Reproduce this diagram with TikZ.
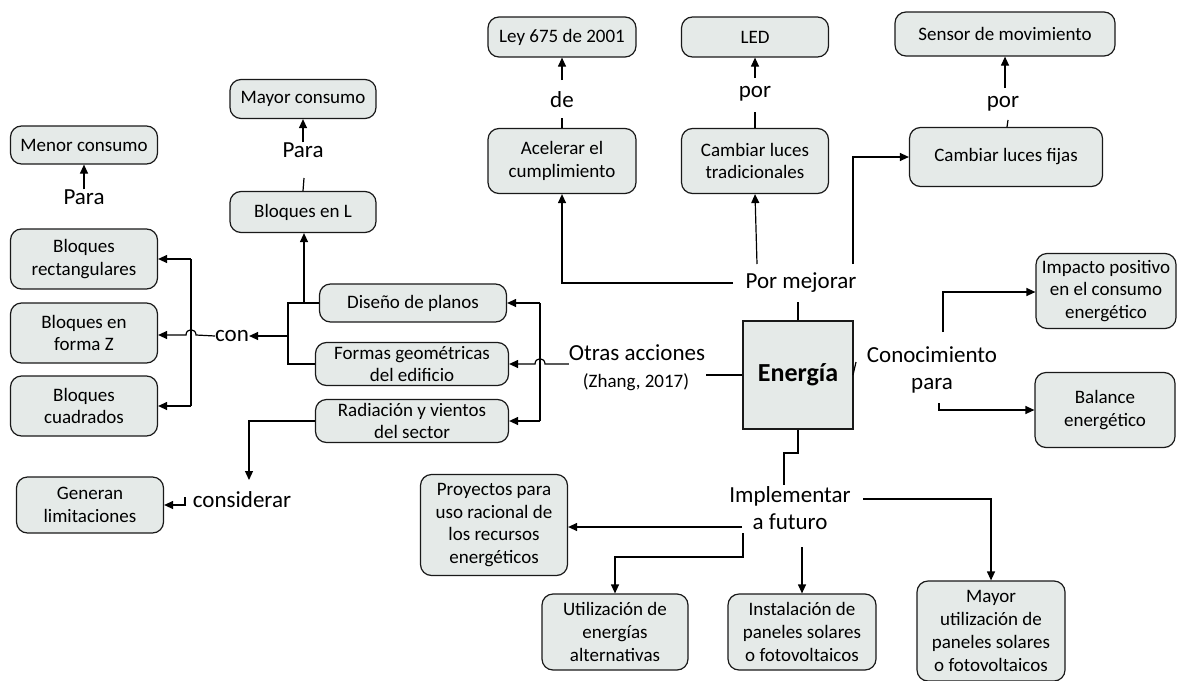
\documentclass[tikz,border=0pt]{standalone}
\usepackage{fontspec}
\setmainfont{Carlito}
\usetikzlibrary{arrows.meta,calc}
\definecolor{boxfill}{RGB}{229,234,232}
\begin{document}
\begin{tikzpicture}[x=1pt,y=-1pt,
  box/.style={draw=black!90,line width=1.2pt,fill=boxfill,rounded corners=11pt,align=center,inner sep=0pt,font=\fontsize{19}{22.8}\selectfont},
  lab/.style={inner sep=0pt,align=center,font=\fontsize{23}{27}\selectfont},
  con/.style={line width=1.2pt},
  arr/.style={line width=1.2pt,-{Triangle[length=9pt,width=8pt]}}]
\useasboundingbox (0,0) rectangle (1177,680);
% boxes
\node[box,minimum width=147,minimum height=38] (menor) at (84,145) {Menor consumo};
\node[box,minimum width=146,minimum height=39] (mayor) at (303,99) {Mayor consumo};
\node[box,minimum width=146,minimum height=41] (bloqL) at (303,212) {Bloques en L};
\node[box,minimum width=147,minimum height=60] (rect) at (84,259) {Bloques\\rectangulares};
\node[box,minimum width=147,minimum height=60] (formaZ) at (84,333) {Bloques en\\forma Z};
\node[box,minimum width=147,minimum height=60] (cuad) at (84,406) {Bloques\\cuadrados};
\node[box,minimum width=187,minimum height=38] (diseno) at (413,303) {Diseño de planos};
\node[box,minimum width=193,minimum height=43] (formas) at (412,364) {Formas geométricas\\del edificio};
\node[box,minimum width=193,minimum height=43] (radia) at (412,421) {Radiación y vientos\\del sector};
\node[box,minimum width=147,minimum height=56] (generan) at (90,505) {Generan\\limitaciones};
\node[box,minimum width=148,minimum height=40] (ley) at (562,37) {Ley 675 de 2001};
\node[box,minimum width=148,minimum height=65] (acel) at (562,161) {Acelerar el\\cumplimiento};
\node[box,minimum width=147,minimum height=40] (led) at (755,37) {LED};
\node[box,minimum width=147,minimum height=65] (camtrad) at (755,161) {Cambiar luces\\tradicionales};
\node[box,minimum width=220,minimum height=44] (sensor) at (1005,34) {Sensor de movimiento};
\node[box,minimum width=193,minimum height=59] (camfij) at (1006,157) {Cambiar luces fijas};
\node[box,minimum width=140,minimum height=75] (impacto) at (1106,291) {Impacto positivo\\en el consumo\\energético};
\node[box,minimum width=140,minimum height=75] (balance) at (1105,410) {Balance\\energético};
\node[box,minimum width=147,minimum height=101] (proy) at (494,525) {Proyectos para\\uso racional de\\los recursos\\energéticos};
\node[box,minimum width=146,minimum height=76] (utiliz) at (615,632) {Utilización de\\energías\\alternativas};
\node[box,minimum width=148,minimum height=76] (instal) at (802,632) {Instalación de\\paneles solares\\o fotovoltaicos};
\node[box,minimum width=148,minimum height=100] (mayorutil) at (991,631) {Mayor\\utilización de\\paneles solares\\o fotovoltaicos};
\node[draw=black!90,line width=1.2pt,fill=boxfill,minimum width=110,minimum height=108,inner sep=0pt,font=\fontsize{26}{30}\selectfont\bfseries] (energia) at (798,375) {Energía};
% labels
\node[lab] (para1) at (84,197) {Para};
\node[lab] (para2) at (303,150) {Para};
\node[lab] (conlab) at (232,336) {con};
\node[lab] (otras) at (637,353) {Otras acciones};
\node[inner sep=0pt,font=\fontsize{19}{22}\selectfont] (zhang) at (636,382) {(Zhang, 2017)};
\node[lab] (pormej) at (801,283) {Por mejorar};
\node[lab] (de) at (562,100) {de};
\node[lab] (por1) at (755,94) {por};
\node[lab] (por2) at (1003,104) {por};
\node[lab] (conoc) at (932,370) {Conocimiento\\para};
\node[lab] (implem) at (790,508) {Implementar\\a futuro};
\node[lab] (consid) at (242,500) {considerar};
% coordinates
\coordinate (jt) at (288,303);
\coordinate (jb) at (288,364);
\coordinate (jc) at (288,336);
\coordinate (jl) at (304,303);
\coordinate (bt) at (191,259);
\coordinate (bb) at (191,406);
\coordinate (rt) at (540,303);
\coordinate (rb) at (540,421);
% top-left
\draw[arr] (para1.north) -- (menor.south);
\draw[arr] (para2.north) -- (mayor.south);
\draw[con] (bloqL.north) -- (304,178);
\draw[con] (diseno.west) -- (jt) -- (jb) -- (formas.west);
\draw[arr] (jl) -- (jl |- bloqL.south);
\draw[arr] (jc) -- (conlab.east);
\draw[arr] (bt) -- (rect.east |- bt);
\draw[con] (bt) -- (bb);
\draw[arr] (bb) -- (cuad.east |- bb);
\draw[arr] (conlab.west) -- (196,335) .. controls (196,328) and (186,328) .. (186,335) -- (formaZ.east |- 0,335);
% right bus
\draw[con] (rt) -- (rb);
\draw[arr] (rt) -- (diseno.east);
\draw[arr] (rb) -- (radia.east);
\draw[arr] (otras.west |- 0,364) -- (545,364) .. controls (545,357) and (535,357) .. (535,364) -- (formas.east);
\draw[con] (energia.west) -- (706,375);
% Energia top
\draw[con] (energia.north) -- (798,302);
\draw[arr] (733,283) -- (562,283) -- (acel.south);
\draw[arr] (757,264) -- (camtrad.south);
\draw[arr] (853,264) -- (853,157) -- (camfij.west);
\draw[con] (acel.north) -- (562,118);
\draw[arr] (562,80) -- (ley.south);
\draw[con] (camtrad.north) -- (755,112);
\draw[arr] (755,78) -- (led.south);
\draw[con] (1007,127) -- (1008,120);
\draw[arr] (1005,88) -- (sensor.south);
% right
\draw[con] (853,375) -- (856,362);
\draw[arr] (943,332) -- (943,292) -- (impacto.west |- 0,292);
\draw[arr] (939,403) -- (939,410) -- (balance.west);
% bottom
\draw[con] (energia.south) -- (798,453) -- (784,453) -- (784,485);
\draw[arr] (742,527) -- (proy.east |- 0,527);
\draw[arr] (743,533) -- (743,557) -- (615,557) -- (utiliz.north);
\draw[arr] (802,547) -- (instal.north);
\draw[arr] (863,499) -- (991,499) -- (mayorutil.north);
% left bottom
\draw[arr] (radia.west) -- (249,421) -- (249,480);
\draw[arr] (185,497) -- (185,505) -- (generan.east);
\end{tikzpicture}
\end{document}
